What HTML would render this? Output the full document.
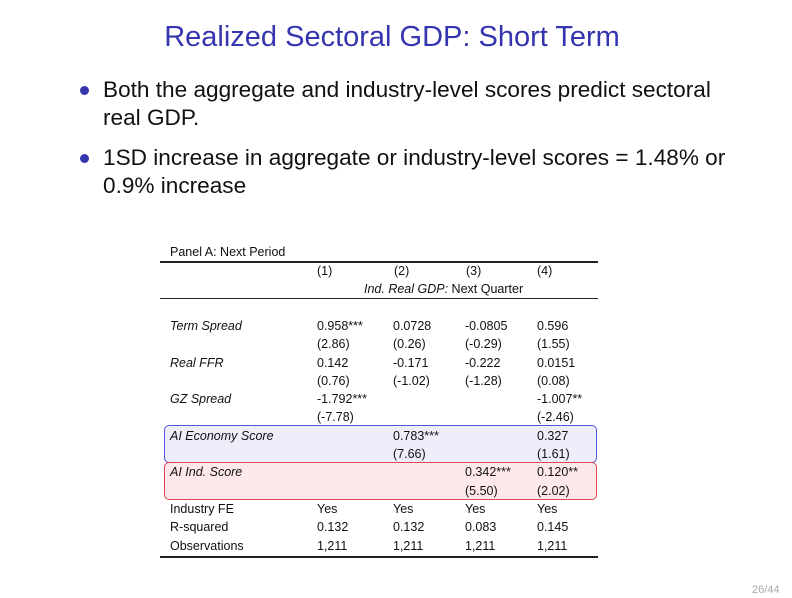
<!DOCTYPE html>
<html><head><meta charset="utf-8"><style>
body{margin:0;width:792px;height:598px;background:#fff;position:relative;overflow:hidden;font-family:"Liberation Sans","DejaVu Sans",sans-serif;color:#111}
.a{position:absolute;white-space:nowrap}
.t{font-size:29px;color:#3535b0;left:0;width:784px;text-align:center;top:21px}
.b{font-size:22.6px;left:103px;line-height:28px}
.d{width:9px;height:9px;border-radius:50%;background:#3535b0;left:80px}
.s{font-size:12.5px;line-height:18.3px}
.i{font-style:italic}
.r{position:absolute;left:160px;width:438px;height:1px;background:#222}
</style></head><body>
<div class="a t">Realized Sectoral GDP: Short Term</div>
<div class="a d" style="top:86px"></div>
<div class="a b" style="top:76px">Both the aggregate and industry-level scores predict sectoral<br>real GDP.</div>
<div class="a d" style="top:154px"></div>
<div class="a b" style="top:144px">1SD increase in aggregate or industry-level scores = 1.48% or<br>0.9% increase</div>

<div class="a" style="left:164px;top:425px;width:431px;height:36px;border:1.5px solid #5555dd;border-radius:5px;background:#eeeefa"></div>
<div class="a" style="left:164px;top:462px;width:431px;height:36px;border:1.5px solid #dd4455;border-radius:5px;background:#fde8ea"></div>

<div class="a s" style="left:170px;top:243px">Panel A: Next Period</div>
<div class="r" style="top:261px;height:1.5px"></div>
<div class="a s" style="left:317px;top:262px">(1)</div>
<div class="a s" style="left:394px;top:262px">(2)</div>
<div class="a s" style="left:466px;top:262px">(3)</div>
<div class="a s" style="left:537px;top:262px">(4)</div>
<div class="a s" style="left:364px;top:280px"><i>Ind. Real GDP:</i> Next Quarter</div>
<div class="r" style="top:298px"></div>

<div class="a s i" style="left:170px;top:317px">Term Spread<br><br>Real FFR<br><br>GZ Spread<br><br>AI Economy Score<br><br>AI Ind. Score</div>
<div class="a s" style="left:170px;top:500px">Industry FE<br>R-squared<br>Observations</div>
<div class="a s" style="left:317px;top:317px">0.958***<br>(2.86)<br>0.142<br>(0.76)<br>-1.792***<br>(-7.78)<br><br><br><br><br>Yes<br>0.132<br>1,211</div>
<div class="a s" style="left:393px;top:317px">0.0728<br>(0.26)<br>-0.171<br>(-1.02)<br><br><br>0.783***<br>(7.66)<br><br><br>Yes<br>0.132<br>1,211</div>
<div class="a s" style="left:465px;top:317px">-0.0805<br>(-0.29)<br>-0.222<br>(-1.28)<br><br><br><br><br>0.342***<br>(5.50)<br>Yes<br>0.083<br>1,211</div>
<div class="a s" style="left:537px;top:317px">0.596<br>(1.55)<br>0.0151<br>(0.08)<br>-1.007**<br>(-2.46)<br>0.327<br>(1.61)<br>0.120**<br>(2.02)<br>Yes<br>0.145<br>1,211</div>
<div class="r" style="top:556px;height:1.5px"></div>
<div class="a" style="left:752px;top:584px;font-size:11px;color:#aaa">26/44</div>
</body></html>
